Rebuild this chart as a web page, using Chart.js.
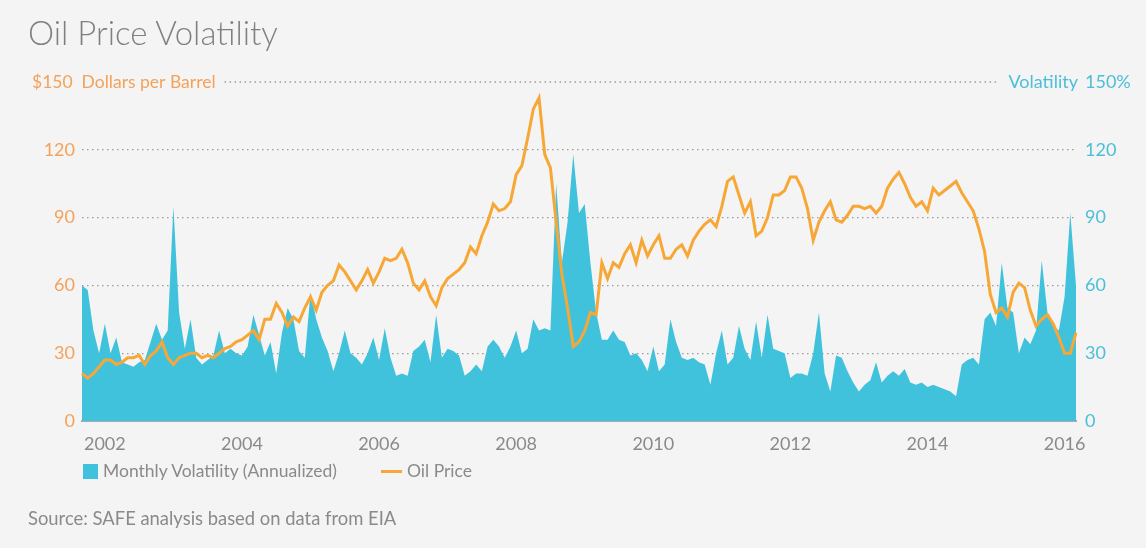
<!DOCTYPE html>
<html>
<head>
<meta charset="utf-8">
<script src="https://cdn.jsdelivr.net/npm/chart.js@4.4.0/dist/chart.umd.min.js"></script>
<style>
  body { margin: 0; background: #f4f4f4; }
  #wrap { position: relative; width: 1146px; height: 548px; background: #f4f4f4; font-family: Lato, "Open Sans", sans-serif; overflow: hidden; }
  #chart { position: absolute; left: 0; top: 0; }
  #title { position: absolute; left: 28px; top: 15px; font-size: 33px; line-height: 34px; font-weight: 300; color: #808080; white-space: nowrap; }
  .leg { position: absolute; top: 461px; font-size: 17.5px; line-height: 20px; color: #8a8a8a; white-space: nowrap; }
  #legBox { position: absolute; left: 83px; top: 464px; width: 15px; height: 15px; background: #41c2dc; }
  #legLine { position: absolute; left: 381px; top: 470px; width: 21px; height: 3px; background: #f7a736; }
  #source { position: absolute; left: 28px; top: 508px; font-size: 18.4px; line-height: 20px; color: #8a8a8a; white-space: nowrap; }
</style>
</head>
<body>
<div id="wrap">
  <canvas id="chart" width="1146" height="548"></canvas>
  <div id="title">Oil Price Volatility</div>
  <div id="legBox"></div>
  <div class="leg" style="left:103px">Monthly Volatility (Annualized)</div>
  <div id="legLine"></div>
  <div class="leg" style="left:407px">Oil Price</div>
  <div id="source">Source: SAFE analysis based on data from EIA</div>
</div>
<script>
// monthly series, first point Sep 2001, last point Mar 2016
var startYear = 2001;
var startMonth = 9;

// oil price, dollars per barrel
var oilPrice = [21,19,21,24,27,27,25,26,28,28, 29,25,29,31,35,28,25,28,29,30,
  30,28,29,28,30,32,33,35,36,38, 40,36,45,45,52,48,42,46,44,50,
  55,49,57,60,62,69,66,62,58,62, 67,61,66,72,71,72,76,70,61,58,
  62,55,51,59,63,65,67,70,77,74, 82,88,96,93,94,97,109,113,125,138,
  143,118,112,88,65,50,33,35,40,48, 47,70,63,70,68,74,78,70,80,73,
  78,82,72,72,76,78,73,80,84,87, 89,86,95,106,108,100,92,97,82,84,
  90,100,100,102,108,108,103,94,80,88, 93,97,89,88,91,95,95,94,95,92,
  95,103,107,110,105,99,95,97,93,103, 100,102,104,106,101,97,93,85,75,56,
  48,50,46,57,61,59,49,42,45,47, 43,37,30,30,39];

// monthly volatility (annualized), percent
var volatility = [60,58,40,30,43,30,37,26,25,24, 26,27,35,43,36,40,95,48,32,45,
  28,25,27,29,40,30,32,30,29,33, 47,38,29,35,21,39,50,45,31,28,
  57,45,37,31,22,30,40,30,28,25, 30,37,27,41,28,20,21,20,31,33,
  36,26,47,28,32,31,29,20,22,25, 22,33,36,33,28,33,40,30,32,45,
  40,41,40,105,70,88,118,92,96,70, 48,36,36,40,36,35,29,30,27,22,
  33,22,25,45,35,28,27,28,26,25, 16,30,40,25,28,42,32,27,44,28,
  47,32,31,30,19,21,21,20,30,48, 21,13,29,28,22,17,13,16,18,26,
  17,20,22,20,23,17,16,17,15,16, 15,14,13,11,25,27,28,25,45,48,
  42,70,50,48,30,37,34,40,71,48, 42,40,55,92,60];

var yTicks = [0, 30, 60, 90, 120, 150];

var months = [];
for (var i = 0; i < oilPrice.length; i++) {
  var m = startMonth - 1 + i;
  var yr = startYear + Math.floor(m / 12);
  var mo = (m % 12) + 1;
  months.push(yr + '-' + (mo < 10 ? '0' + mo : mo));
}

var orange = '#f7a736';
var orangeText = '#f4a259';
var teal = '#41c2dc';
var tealText = '#4bbfd9';
var grey = '#8a8a8a';
var fam = 'Lato, "Open Sans", sans-serif';

var topLabels = {
  id: 'topLabels',
  afterDraw: function(chart) {
    var c = chart.ctx;
    var yR = chart.scales.yR;
    var y = chart.scales.yL.getPixelForValue(150);
    c.save();
    c.font = '17.5px ' + fam;
    c.textBaseline = 'middle';
    c.textAlign = 'left';
    c.fillStyle = orangeText;
    c.fillText('$150', 32, y);
    var x2 = 32 + c.measureText('$150').width + 9;
    c.fillText('Dollars per Barrel', x2, y);
    var leftEnd = x2 + c.measureText('Dollars per Barrel').width + 9;
    c.font = '18px ' + fam;
    c.fillStyle = tealText;
    c.fillText('150%', yR.left + 9, y);
    c.textAlign = 'right';
    c.fillText('Volatility', yR.left + 2, y);
    var rightEnd = yR.left + 2 - c.measureText('Volatility').width - 9;
    c.strokeStyle = '#9a9a9a';
    c.lineWidth = 1.3;
    c.setLineDash([1.5, 3.5]);
    c.beginPath();
    c.moveTo(leftEnd, y);
    c.lineTo(rightEnd, y);
    c.stroke();
    c.restore();
  }
};

var ctx = document.getElementById('chart');

var myChart = new Chart(ctx, {
  type: 'line',
  data: {
    labels: months,
    datasets: [{
      label: 'Oil Price',
      data: oilPrice,
      yAxisID: 'yL',
      borderColor: orange,
      borderWidth: 3,
      pointRadius: 0,
      fill: false,
      tension: 0,
      order: 0
    }, {
      label: 'Monthly Volatility (Annualized)',
      data: volatility,
      yAxisID: 'yR',
      borderColor: teal,
      backgroundColor: teal,
      borderWidth: 0,
      pointRadius: 0,
      fill: 'origin',
      tension: 0,
      order: 1
    }]
  },
  options: {
    responsive: false,
    animation: false,
    layout: { padding: { left: 20, right: 20, top: 82, bottom: 87 } },
    plugins: {
      legend: { display: false },
      tooltip: { enabled: false }
    },
    scales: {
      x: {
        grid: { display: false, drawTicks: false },
        border: { display: true, color: '#ababab', width: 2 },
        ticks: {
          autoSkip: false,
          maxRotation: 0,
          padding: 12,
          color: grey,
          font: { size: 18, family: fam },
          callback: function(v, i) {
            var lab = months[i];
            var yr = +lab.slice(0, 4);
            return (lab.slice(5) === '01' && yr % 2 === 0) ? String(yr) : '';
          }
        },
        afterFit: function(s) { s.height = 40; }
      },
      yL: {
        position: 'left',
        min: 0,
        max: 150,
        afterBuildTicks: function(s) { s.ticks = yTicks.map(function(v) { return { value: v }; }); },
        ticks: {
          padding: 7,
          color: orangeText,
          font: { size: 18, family: fam },
          callback: function(v) { return v === 150 ? '' : String(v); }
        },
        grid: {
          drawTicks: false,
          lineWidth: 1.3,
          color: function(c) {
            var v = c.tick ? c.tick.value : null;
            return (v === 0 || v === 150) ? 'rgba(0,0,0,0)' : '#9a9a9a';
          }
        },
        border: { display: false, dash: [1.5, 3.5] },
        afterFit: function(s) { s.width = 62; }
      },
      yR: {
        position: 'right',
        min: 0,
        max: 150,
        afterBuildTicks: function(s) { s.ticks = yTicks.map(function(v) { return { value: v }; }); },
        ticks: {
          padding: 9,
          color: tealText,
          font: { size: 18, family: fam },
          callback: function(v) { return v === 150 ? '' : String(v); }
        },
        grid: { display: false, drawTicks: false },
        border: { display: false },
        afterFit: function(s) { s.width = 50; }
      }
    }
  },
  plugins: [topLabels]
});
</script>
</body>
</html>
